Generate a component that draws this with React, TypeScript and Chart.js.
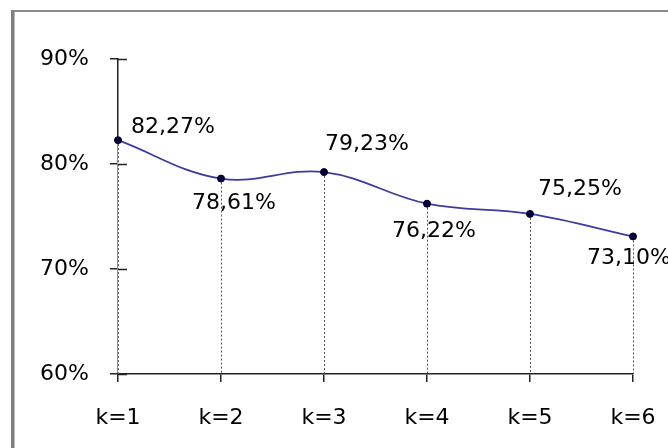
import React, { useEffect, useRef } from "react";
import { Chart, registerables } from "chart.js";

Chart.register(...registerables);

// ---- data ----
const categories = ["k=1", "k=2", "k=3", "k=4", "k=5", "k=6"];
const values = [82.27, 78.61, 79.23, 76.22, 75.25, 73.1];
const valueLabels = ["82,27%", "78,61%", "79,23%", "76,22%", "75,25%", "73,10%"];
const yMin = 60;
const yMax = 90;
const yStep = 10;

// ---- style ----
const FONT_FAMILY = "'DejaVu Sans', sans-serif";
const FONT_SIZE = 22;
// label placement relative to point: [left dx, center dy]
const LABEL_OFFSETS: [number, number][] = [
  [13, -13],
  [-29, 25],
  [1, -28],
  [-35, 28],
  [8, -25],
  [-46, 22],
];

const framePlugin = {
  id: "frame",
  beforeDraw(chart: any) {
    const ctx = chart.ctx;
    ctx.save();
    ctx.fillStyle = "#ffffff";
    ctx.fillRect(0, 0, chart.width, chart.height);
    ctx.fillStyle = "#8a8a8a";
    ctx.fillRect(11, 10, chart.width - 11, 2);
    ctx.fillStyle = "#7f7f7f";
    ctx.fillRect(11, 10, 3, chart.height - 10);
    ctx.fillStyle = "#b8b8b8";
    ctx.fillRect(14, 12, 1, chart.height - 12);
    ctx.restore();
  },
};

const dropLinesPlugin = {
  id: "dropLines",
  beforeDatasetsDraw(chart: any) {
    const ctx = chart.ctx;
    const meta = chart.getDatasetMeta(0);
    const bottom = chart.chartArea.bottom;
    ctx.save();
    meta.data.forEach((pt: any) => {
      const x = Math.round(pt.x) + 0.5;
      ctx.setLineDash([]);
      ctx.strokeStyle = "#ffffff";
      ctx.lineWidth = 2;
      ctx.beginPath();
      ctx.moveTo(x, pt.y);
      ctx.lineTo(x, bottom - 1);
      ctx.stroke();
      ctx.setLineDash([2, 2]);
      ctx.strokeStyle = "#555555";
      ctx.lineWidth = 1;
      ctx.beginPath();
      ctx.moveTo(x, pt.y);
      ctx.lineTo(x, bottom);
      ctx.stroke();
    });
    ctx.restore();
  },
  afterDraw(chart: any) {
    // inner half of the y-axis tick marks (cross ticks)
    const ctx = chart.ctx;
    const yScale = chart.scales.y;
    const left = chart.chartArea.left;
    ctx.save();
    ctx.strokeStyle = "#222222";
    ctx.lineWidth = 1.5;
    yScale.ticks.forEach((t: any) => {
      const y = Math.round(yScale.getPixelForValue(t.value)) + 0.5;
      ctx.beginPath();
      ctx.moveTo(left, y);
      ctx.lineTo(left + 9, y);
      ctx.stroke();
    });
    ctx.restore();
  },
};

const labelsPlugin = {
  id: "valueLabels",
  afterDatasetsDraw(chart: any) {
    const ctx = chart.ctx;
    const meta = chart.getDatasetMeta(0);
    ctx.save();
    ctx.font = `${FONT_SIZE}px ${FONT_FAMILY}`;
    ctx.fillStyle = "#000000";
    ctx.textAlign = "left";
    ctx.textBaseline = "middle";
    meta.data.forEach((pt: any, i: number) => {
      const off = LABEL_OFFSETS[i] || [0, 0];
      ctx.fillText(valueLabels[i], pt.x + off[0], pt.y + off[1]);
    });
    ctx.restore();
  },
};

export default function App() {
  const canvasRef = useRef<HTMLCanvasElement | null>(null);

  useEffect(() => {
    const canvas = canvasRef.current;
    if (!canvas) return;
    const chart = new Chart(canvas, {
      type: "line",
      data: {
        labels: categories,
        datasets: [
          {
            data: values,
            borderColor: "#3a3aa4",
            borderWidth: 1.7,
            tension: 0.38,
            pointRadius: 3.5,
            pointBackgroundColor: "#000033",
            pointBorderColor: "#000033",
            pointBorderWidth: 1,
            fill: false,
          },
        ],
      },
      options: {
        responsive: false,
        animation: false,
        devicePixelRatio: 1,
        layout: { padding: { left: 0, top: 59, right: 35, bottom: 0 } },
        plugins: {
          legend: { display: false },
          tooltip: { enabled: false },
          title: { display: false },
        },
        scales: {
          x: {
            type: "category",
            offset: false,
            grid: {
              display: true,
              drawOnChartArea: false,
              drawTicks: true,
              tickLength: 8,
              color: "#222222",
              lineWidth: 1.5,
            },
            border: { display: true, color: "#222222", width: 1.5 },
            ticks: {
              color: "#000000",
              padding: 23,
              maxRotation: 0,
              autoSkip: false,
              font: { family: FONT_FAMILY, size: FONT_SIZE },
            },
            afterFit(scale: any) {
              scale.height = 74;
              scale.paddingLeft = 0;
              scale.paddingRight = 0;
            },
          },
          y: {
            min: yMin,
            max: yMax,
            grid: {
              display: true,
              drawOnChartArea: false,
              drawTicks: true,
              tickLength: 8,
              color: "#222222",
              lineWidth: 1.5,
            },
            border: { display: true, color: "#222222", width: 1.5 },
            ticks: {
              stepSize: yStep,
              color: "#000000",
              padding: 21,
              font: { family: FONT_FAMILY, size: FONT_SIZE },
              callback: (v: any) => `${v}%`,
            },
            afterFit(scale: any) {
              scale.width = 118;
              scale.paddingTop = 0;
              scale.paddingBottom = 0;
            },
          },
        },
      },
      plugins: [framePlugin, dropLinesPlugin, labelsPlugin],
    } as any);
    return () => chart.destroy();
  }, []);

  return (
    <div style={{ position: "absolute", left: 0, top: 0, width: 668, height: 448 }}>
      <canvas ref={canvasRef} width={668} height={448} style={{ display: "block" }} />
    </div>
  );
}
